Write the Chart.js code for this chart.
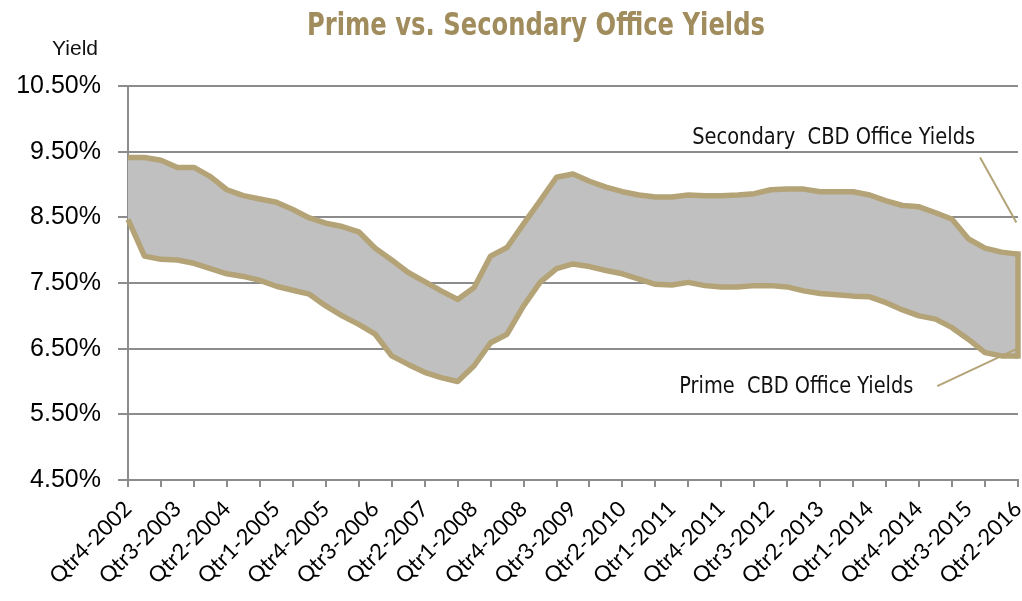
<!DOCTYPE html>
<html><head><meta charset="utf-8">
<style>html,body{margin:0;padding:0;background:#fff;overflow:hidden}</style>
<script src="https://cdn.jsdelivr.net/npm/chart.js@4.4.0/dist/chart.umd.min.js"></script>
</head><body>
<canvas id="c" width="1022" height="601"></canvas>
<script>
const quarters = [
 'Qtr4-2002',
 'Qtr1-2003','Qtr2-2003','Qtr3-2003','Qtr4-2003',
 'Qtr1-2004','Qtr2-2004','Qtr3-2004','Qtr4-2004',
 'Qtr1-2005','Qtr2-2005','Qtr3-2005','Qtr4-2005',
 'Qtr1-2006','Qtr2-2006','Qtr3-2006','Qtr4-2006',
 'Qtr1-2007','Qtr2-2007','Qtr3-2007','Qtr4-2007',
 'Qtr1-2008','Qtr2-2008','Qtr3-2008','Qtr4-2008',
 'Qtr1-2009','Qtr2-2009','Qtr3-2009','Qtr4-2009',
 'Qtr1-2010','Qtr2-2010','Qtr3-2010','Qtr4-2010',
 'Qtr1-2011','Qtr2-2011','Qtr3-2011','Qtr4-2011',
 'Qtr1-2012','Qtr2-2012','Qtr3-2012','Qtr4-2012',
 'Qtr1-2013','Qtr2-2013','Qtr3-2013','Qtr4-2013',
 'Qtr1-2014','Qtr2-2014','Qtr3-2014','Qtr4-2014',
 'Qtr1-2015','Qtr2-2015','Qtr3-2015','Qtr4-2015',
 'Qtr1-2016','Qtr2-2016'
];
const secondaryYield = [
 9.41,9.41,9.37,9.26,9.26,9.12,8.92,8.83,8.78,8.73,
 8.62,8.49,8.41,8.36,8.28,8.03,7.85,7.66,7.52,7.38,
 7.25,7.43,7.91,8.04,8.40,8.75,9.11,9.16,9.05,8.96,
 8.89,8.84,8.81,8.81,8.84,8.83,8.83,8.84,8.86,8.92,
 8.93,8.93,8.89,8.89,8.89,8.84,8.75,8.68,8.66,8.57,
 8.47,8.17,8.03,7.97,7.94
];
const primeYield = [
 8.47,7.91,7.86,7.85,7.80,7.72,7.64,7.60,7.54,7.45,
 7.39,7.33,7.15,7.00,6.87,6.72,6.39,6.26,6.14,6.06,
 6.00,6.24,6.59,6.72,7.15,7.51,7.72,7.79,7.75,7.69,
 7.64,7.56,7.48,7.47,7.51,7.46,7.44,7.44,7.46,7.46,
 7.44,7.38,7.34,7.32,7.30,7.29,7.20,7.09,7.00,6.95,
 6.82,6.64,6.44,6.39,6.39
];
const yTicks = [4.5,5.5,6.5,7.5,8.5,9.5,10.5];
const titleText = 'Prime vs. Secondary Office Yields';
const yAxisLabel = 'Yield';
const secondaryNote = 'Secondary  CBD Office Yields';
const primeNote = 'Prime  CBD Office Yields';

const TAN = '#b3a377';
const TITLE_TAN = '#a08c5c';
const GRID = '#8c8c8c';
const NARROW = '"Liberation Sans Narrow","DejaVu Sans Condensed","Liberation Sans",sans-serif';

function fittedText(ctx, text, x, y, width, align) {
  const w = ctx.measureText(text).width;
  const sx = width / w;
  ctx.save();
  ctx.translate(x, y);
  ctx.scale(sx, 1);
  ctx.textAlign = align;
  ctx.fillText(text, 0, 0);
  ctx.restore();
}

const extras = {
  id: 'extras',
  afterDatasetsDraw(chart) {
    const ctx = chart.ctx;
    const x = chart.scales.x, y = chart.scales.y;
    const m0 = chart.getDatasetMeta(0).data, m1 = chart.getDatasetMeta(1).data;
    const a = m0[m0.length - 1], b = m1[m1.length - 1];
    ctx.save();
    ctx.strokeStyle = TAN; ctx.lineWidth = 5.5; ctx.lineCap = 'square';
    ctx.beginPath(); ctx.moveTo(a.x, a.y); ctx.lineTo(b.x, b.y); ctx.stroke();
    ctx.lineWidth = 2; ctx.lineCap = 'butt';
    ctx.beginPath();
    ctx.moveTo(x.getPixelForValue(51.7), y.getPixelForValue(9.41));
    ctx.lineTo(x.getPixelForValue(53.9), y.getPixelForValue(8.42));
    ctx.moveTo(x.getPixelForValue(49.1), y.getPixelForValue(5.93));
    ctx.lineTo(x.getPixelForValue(53.95), y.getPixelForValue(6.50));
    ctx.stroke();
    ctx.fillStyle = '#111';
    ctx.font = '23px ' + NARROW;
    ctx.textBaseline = 'middle';
    fittedText(ctx, secondaryNote, x.getPixelForValue(51.4), y.getPixelForValue(9.71), 283, 'right');
    fittedText(ctx, primeNote, x.getPixelForValue(47.65), y.getPixelForValue(5.92), 234, 'right');
    ctx.restore();
  },
  afterDraw(chart) {
    const ctx = chart.ctx;
    ctx.save();
    ctx.fillStyle = TITLE_TAN;
    ctx.font = 'bold 32px ' + NARROW;
    ctx.textBaseline = 'middle';
    fittedText(ctx, titleText, 536, 27, 458, 'center');
    ctx.fillStyle = '#111';
    ctx.font = '21px "Liberation Sans", Arial, sans-serif';
    ctx.textAlign = 'right';
    ctx.fillText(yAxisLabel, 98, 49);
    ctx.restore();
  }
};

new Chart(document.getElementById('c'), {
  type: 'line',
  data: {
    labels: quarters,
    datasets: [
      { label: 'Secondary CBD Office Yields', data: secondaryYield,
        borderColor: TAN, borderWidth: 5.5, pointRadius: 0, tension: 0,
        borderJoinStyle: 'round', fill: '+1', backgroundColor: '#c0c0c0' },
      { label: 'Prime CBD Office Yields', data: primeYield,
        borderColor: TAN, borderWidth: 5.5, pointRadius: 0, tension: 0,
        borderJoinStyle: 'round', fill: false }
    ]
  },
  options: {
    responsive: false, animation: false, devicePixelRatio: 1,
    layout: { padding: { top: 86, right: 4, left: 0, bottom: 0 } },
    plugins: { legend: { display: false }, tooltip: { enabled: false }, title: { display: false },
               filler: { drawTime: 'beforeDatasetsDraw' } },
    scales: {
      x: {
        type: 'category', offset: false,
        afterFit(s) { s.height = 121; s.paddingRight = 0; s.paddingLeft = 0; },
        border: { color: GRID, width: 2 },
        grid: { drawOnChartArea: false, drawTicks: true, tickLength: 7, lineWidth: 2,
                tickColor: c => (c.index % 2 === 0 ? GRID : 'rgba(0,0,0,0)') },
        ticks: {
          autoSkip: false, minRotation: 45, maxRotation: 45, padding: 9,
          color: '#000', font: { family: 'Lato, "Open Sans", sans-serif', size: 22 },
          callback(v, i) { return i % 3 === 0 ? quarters[i] : ''; }
        }
      },
      y: {
        min: 4.5, max: 10.5,
        afterFit(s) { s.width = 128; },
        afterBuildTicks(s) { s.ticks = yTicks.map(v => ({ value: v })); },
        border: { color: GRID, width: 2 },
        grid: { color: GRID, lineWidth: 2, tickLength: 10, drawTicks: true },
        ticks: {
          padding: 17, color: '#000',
          font: { family: '"Liberation Sans", Arial, sans-serif', size: 25 },
          callback: v => v.toFixed(2) + '%'
        }
      }
    }
  },
  plugins: [extras]
});
</script>
</body></html>
